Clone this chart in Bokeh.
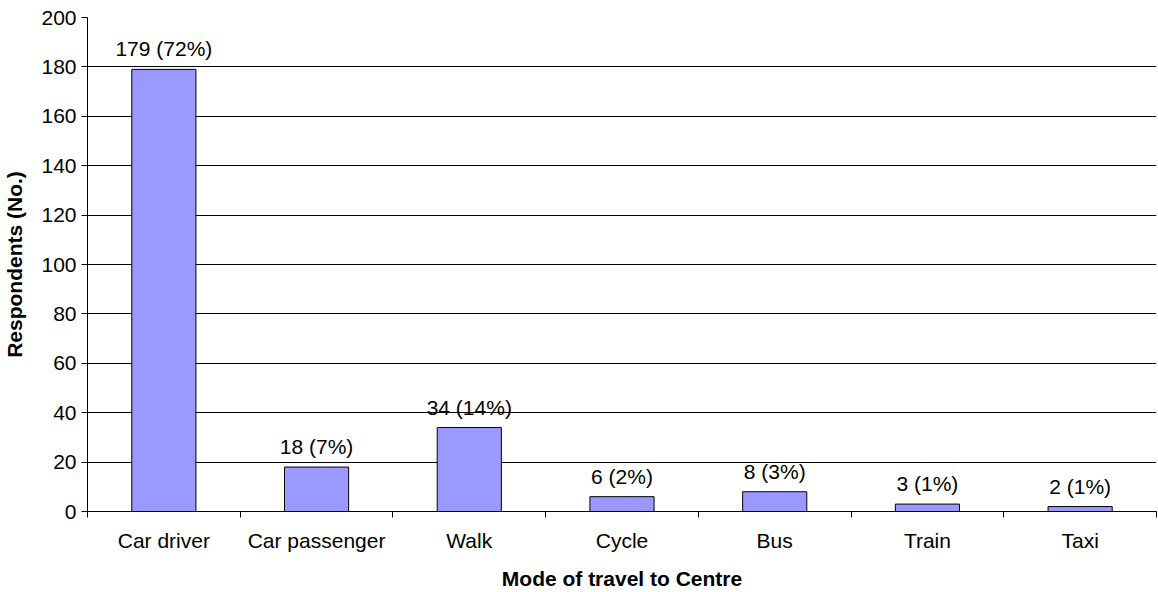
from bokeh.plotting import figure
from bokeh.models import ColumnDataSource, FixedTicker, Range1d
from bokeh.embed import file_html
from bokeh.resources import INLINE
from bokeh.core.properties import value

categories = ["Car driver", "Car passenger", "Walk", "Cycle", "Bus", "Train", "Taxi"]
counts = [179, 18, 34, 6, 8, 3, 2]
percents = [72, 7, 14, 2, 3, 1, 1]
y_ticks = [0, 20, 40, 60, 80, 100, 120, 140, 160, 180, 200]

xs = [i + 0.5 for i in range(len(categories))]
labels = [f"{c} ({p}%)" for c, p in zip(counts, percents)]
src = ColumnDataSource(dict(x=xs, top=counts, label=labels))

FONT = "Liberation Sans"

p = figure(width=1158, height=592, output_backend="svg", toolbar_location=None,
           x_range=Range1d(0, len(categories)), y_range=Range1d(0, 200))
p.min_border_left = 86
p.min_border_right = 2
p.min_border_top = 17
p.min_border_bottom = 80
p.outline_line_color = None
p.background_fill_color = "white"
p.border_fill_color = "white"

p.vbar(x="x", top="top", width=0.42, source=src, fill_color="#9999FF",
       line_color="black", line_width=1)
p.text(x="x", y="top", text="label", source=src, text_align="center",
       text_baseline="bottom", y_offset=-9, text_font=value(FONT),
       text_font_size="21px", text_color="black")

# x axis
p.xaxis.ticker = FixedTicker(ticks=xs, minor_ticks=list(range(len(categories) + 1)))
p.xaxis.major_label_overrides = {x: c for x, c in zip(xs, categories)}
p.xaxis.major_tick_out = 0
p.xaxis.major_tick_in = 0
p.xaxis.minor_tick_out = 6
p.xaxis.minor_tick_in = 0
p.xaxis.minor_tick_line_color = "black"
p.xaxis.axis_line_color = "black"
p.xaxis.major_label_standoff = 11
p.xaxis.major_label_text_font = FONT
p.xaxis.major_label_text_font_size = "21px"
p.xaxis.major_label_text_color = "black"
p.xaxis.axis_label = "Mode of travel to Centre"
p.xaxis.axis_label_text_font = FONT
p.xaxis.axis_label_text_font_size = "21px"
p.xaxis.axis_label_text_font_style = "bold"
p.xaxis.axis_label_text_color = "black"
p.xaxis.axis_label_standoff = 12

# y axis
p.yaxis.ticker = FixedTicker(ticks=y_ticks)
p.yaxis.major_tick_out = 6
p.yaxis.major_tick_in = 0
p.yaxis.minor_tick_line_color = None
p.yaxis.major_tick_line_color = "black"
p.yaxis.axis_line_color = "black"
p.yaxis.major_label_standoff = 5
p.yaxis.major_label_text_font = FONT
p.yaxis.major_label_text_font_size = "21px"
p.yaxis.major_label_text_color = "black"
p.yaxis.axis_label = "Respondents (No.)"
p.yaxis.axis_label_text_font = FONT
p.yaxis.axis_label_text_font_size = "21px"
p.yaxis.axis_label_text_font_style = "bold"
p.yaxis.axis_label_text_color = "black"
p.yaxis.axis_label_standoff = 12

p.xgrid.grid_line_color = None
p.ygrid.grid_line_color = "black"
p.ygrid.grid_line_width = 1

open("out.html", "w").write(file_html(p, INLINE))
